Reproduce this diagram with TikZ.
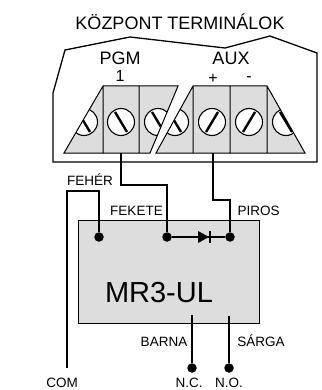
\documentclass[tikz,border=0pt]{standalone}
\usepackage{fontspec}
\setmainfont{Liberation Sans}
\usepackage{xcolor}
\usetikzlibrary{positioning}

\definecolor{termgray}{RGB}{221,221,221}

\tikzset{
	wire/.style={line width=2pt},
	dot/.style={circle,fill,inner sep=0pt,minimum size=9.5pt},
	lbl/.style={font=\fontsize{13.5}{15}\selectfont,inner sep=0pt},
	biglbl/.style={font=\fontsize{18}{20}\selectfont,inner sep=0pt},
	pinlbl/.style={font=\fontsize{16}{18}\selectfont,inner sep=0pt},
	screw/.style={draw,fill=white,line width=1.1pt},
	slot/.style={line width=2.4pt}
}

\begin{document}
\begin{tikzpicture}[x=1pt,y=-1pt]
	\useasboundingbox (0,0) rectangle (321,390);

	% panel of the controller
	\draw[line width=1.3pt] (53,162) -- (53,93) -- (65,50) -- (130,37) -- (225,48) -- (270,36) -- (317,53) -- (317,162) -- cycle;
	\node[biglbl] (title) at (180,22) {KÖZPONT TERMINÁLOK};
	\node[biglbl] (pgm) at (120,58) {PGM};
	\node[pinlbl,below=6pt of pgm] (pgmone) {1};
	\node[biglbl] (aux) at (231,58) {AUX};
	\node[pinlbl] (auxplus) at (213,79) {+};
	\node[pinlbl] (auxminus) at (249,79) {-};

	% terminal blocks
	\fill[termgray] (103,86) -- (178,86) -- (150,153) -- (64,153) -- cycle;
	\fill[termgray] (193,86) -- (267,86) -- (305,153) -- (156,153) -- cycle;
	\begin{scope}
		\clip (103,86) -- (178,86) -- (150,153) -- (64,153) -- cycle;
		\foreach \cx in {84,121,158}
			{\draw[screw] (\cx,122) circle (13.5pt);
			\draw[slot] (\cx-6,112) -- (\cx+6,132);}
	\end{scope}
	\begin{scope}
		\clip (193,86) -- (267,86) -- (305,153) -- (156,153) -- cycle;
		\foreach \cx/\s in {175/1,212/-1,249/-1,286/1}
			{\draw[screw] (\cx,122) circle (13.5pt);
			\draw[slot] (\cx-6,122-10*\s) -- (\cx+6,122+10*\s);}
	\end{scope}
	\draw[line width=1pt] (103,86) -- (178,86) -- (150,153) -- (64,153) -- cycle
		(103,86) -- (103,153) (139,86) -- (139,153);
	\draw[line width=1pt] (193,86) -- (267,86) -- (305,153) -- (156,153) -- cycle
		(193,86) -- (193,153) (230,86) -- (230,153) (267,86) -- (267,153);
	\coordinate (pgmout) at (121,153);
	\coordinate (auxout) at (213,153);

	% relay module
	\node[draw,fill=termgray,line width=1.2pt,minimum width=181pt,minimum height=103pt,anchor=north west] (mr3) at (78,220) {};
	\node[font=\fontsize{29}{32}\selectfont,inner sep=0pt] (mr3lbl) at (159,293) {MR3-UL};

	\node[dot] (dotfeh) at (99,237) {};
	\node[dot] (dotfek) at (167,237) {};
	\node[dot] (dotpir) at (230,237) {};
	\node[dot] (dotnc) at (192,368) {};
	\node[dot] (dotno) at (229,368) {};

	% wires
	\coordinate (pgmbend) at (121,185);
	\coordinate (auxbend) at (213,200);
	\coordinate (fehbend) at (67,191);
	\coordinate (comend) at (67,368);
	\draw[wire] (pgmout) -- (pgmbend) -| (dotfek);
	\draw[wire] (auxout) -- (auxbend) -| (dotpir);
	\draw[wire] (dotfeh) |- (fehbend) -- (comend);
	\draw[wire] (dotfek) -- (dotpir);
	% diode
	\coordinate (diode) at (204,237);
	\fill (198,231) -- (209,237) -- (198,243) -- cycle;
	\draw[line width=1.6pt] (210,231) -- (210,243);
	\draw[line width=1.3pt] (192,315) -- (dotnc);
	\draw[line width=2.6pt] (229,316) -- (dotno);

	% wire colours
	\node[lbl] (feh) at (90,180) {FEHÉR};
	\node[lbl] (fek) at (136.5,211) {FEKETE};
	\node[lbl] (pir) at (258.5,211) {PIROS};
	\node[lbl] (bar) at (164,342) {BARNA};
	\node[lbl] (sar) at (261,341) {SÁRGA};
	\node[lbl] (com) at (62,383) {COM};
	\node[lbl] (nc) at (189,383) {N.C.};
	\node[lbl] (no) at (229,383) {N.O.};
\end{tikzpicture}
\end{document}
